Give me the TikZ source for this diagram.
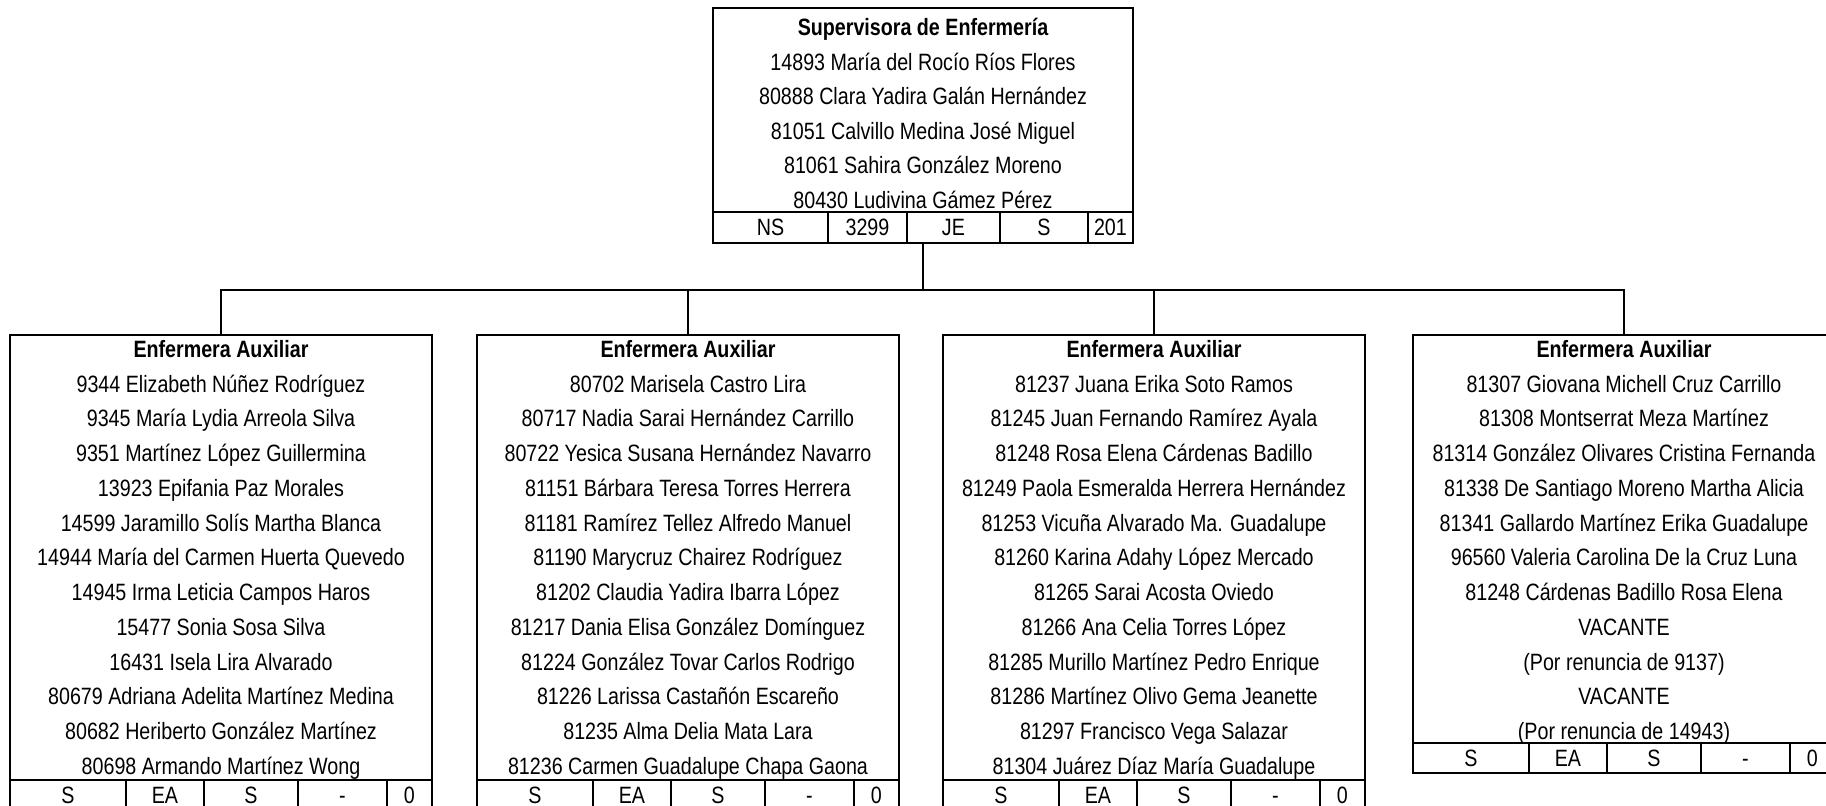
\documentclass[tikz,border=0pt]{standalone}
\usepackage{fontspec}
\setmainfont{Liberation Sans}
\usetikzlibrary{positioning}
\newcommand\alto[1]{\scalebox{1}[1.2]{#1}}

\begin{document}
\begin{tikzpicture}[x=0.02cm, y=-0.02cm,
    caja/.style={draw, line width=1.5pt, inner sep=0pt, outer sep=0pt, anchor=north west, minimum width=8.44cm},
    celda/.style={draw, line width=1.1pt, inner sep=0pt, outer sep=0pt, minimum height=0.6cm, text height=9.6pt, text depth=0pt, font=\fontsize{11.2}{13.4}\selectfont},
    linea/.style={inner sep=0pt, text height=9.6pt, text depth=0pt, font=\fontsize{11.2}{13.4}\selectfont},
    titulo/.style={linea, font=\fontsize{11.2}{13.4}\selectfont\bfseries},
    conector/.style={line width=1.3pt}]
  \clip (0,0) rectangle (1826,805);

  % supervisora
  \node[caja, minimum width=8.4cm, minimum height=4.7cm] (sup) at (713,8) {};
  \node[titulo] (sup-t) at (923,27) {\alto{Supervisora de Enfermería}};
  \foreach \t [count=\i] in {{14893 María del Rocío Ríos Flores},{80888 Clara Yadira Galán Hernández},
      {81051 Calvillo Medina José Miguel},{81061 Sahira González Moreno},{80430 Ludivina Gámez Pérez}}
    \node[linea] (sup-l\i) at (923,{27+34.6*\i}) {\alto{\t}};
  \node[celda, minimum height=0.62cm, minimum width=2.3cm, anchor=south west] (sup-1) at (sup.south west) {\alto{NS}};
  \node[celda, minimum height=0.62cm, minimum width=1.58cm, right=0pt of sup-1] (sup-2) {\alto{3299}};
  \node[celda, minimum height=0.62cm, minimum width=1.86cm, right=0pt of sup-2] (sup-3) {\alto{JE}};
  \node[celda, minimum height=0.62cm, minimum width=1.76cm, right=0pt of sup-3] (sup-4) {\alto{S}};
  \node[celda, minimum height=0.62cm, minimum width=0.9cm, right=0pt of sup-4] (sup-5) {\alto{201}};

  % enfermeras auxiliares
  \node[caja, minimum height=9.5cm] (a1) at (10,335) {};
  \node[caja, minimum height=9.5cm] (a2) at (477,335) {};
  \node[caja, minimum height=9.5cm] (a3) at (943,335) {};
  \node[caja, minimum height=8.76cm] (a4) at (1413,335) {};
  \foreach \b/\x in {a1/221,a2/688,a3/1154,a4/1624} {
    \node[titulo] (\b-t) at (\x,349) {\alto{Enfermera Auxiliar}};
    \node[celda, minimum width=2.32cm, anchor=south west] (\b-1) at (\b.south west) {\alto{S}};
    \node[celda, minimum width=1.56cm, right=0pt of \b-1] (\b-2) {\alto{EA}};
    \node[celda, minimum width=1.88cm, right=0pt of \b-2] (\b-3) {\alto{S}};
    \node[celda, minimum width=1.78cm, right=0pt of \b-3] (\b-4) {\alto{-}};
    \node[celda, minimum width=0.9cm, right=0pt of \b-4] (\b-5) {\alto{0}};
  }
  \foreach \t [count=\i] in {{9344 Elizabeth Núñez Rodríguez},{9345 María Lydia Arreola Silva},
      {9351 Martínez López Guillermina},{13923 Epifania Paz Morales},{14599 Jaramillo Solís Martha Blanca},
      {14944 María del Carmen Huerta Quevedo},{14945 Irma Leticia Campos Haros},{15477 Sonia Sosa Silva},
      {16431 Isela Lira Alvarado},{80679 Adriana Adelita Martínez Medina},
      {80682 Heriberto González Martínez},{80698 Armando Martínez Wong}}
    \node[linea] (a1-l\i) at (221,{349+34.75*\i}) {\alto{\t}};
  \foreach \t [count=\i] in {{80702 Marisela Castro Lira},{80717 Nadia Sarai Hernández Carrillo},
      {80722 Yesica Susana Hernández Navarro},{81151 Bárbara Teresa Torres Herrera},
      {81181 Ramírez Tellez Alfredo Manuel},{81190 Marycruz Chairez Rodríguez},
      {81202 Claudia Yadira Ibarra López},{81217 Dania Elisa González Domínguez},
      {81224 González Tovar Carlos Rodrigo},{81226 Larissa Castañón Escareño},
      {81235 Alma Delia Mata Lara},{81236 Carmen Guadalupe Chapa Gaona}}
    \node[linea] (a2-l\i) at (688,{349+34.75*\i}) {\alto{\t}};
  \foreach \t [count=\i] in {{81237 Juana Erika Soto Ramos},{81245 Juan Fernando Ramírez Ayala},
      {81248 Rosa Elena Cárdenas Badillo},{81249 Paola Esmeralda Herrera Hernández},
      {81253 Vicuña Alvarado Ma. Guadalupe},{81260 Karina Adahy López Mercado},
      {81265 Sarai Acosta Oviedo},{81266 Ana Celia Torres López},
      {81285 Murillo Martínez Pedro Enrique},{81286 Martínez Olivo Gema Jeanette},
      {81297 Francisco Vega Salazar},{81304 Juárez Díaz María Guadalupe}}
    \node[linea] (a3-l\i) at (1154,{349+34.75*\i}) {\alto{\t}};
  \foreach \t [count=\i] in {{81307 Giovana Michell Cruz Carrillo},{81308 Montserrat Meza Martínez},
      {81314 González Olivares Cristina Fernanda},{81338 De Santiago Moreno Martha Alicia},
      {81341 Gallardo Martínez Erika Guadalupe},{96560 Valeria Carolina De la Cruz Luna},
      {81248 Cárdenas Badillo Rosa Elena},{VACANTE},{(Por renuncia de 9137)},{VACANTE},
      {(Por renuncia de 14943)}}
    \node[linea] (a4-l\i) at (1624,{349+34.75*\i}) {\alto{\t}};

  % conectores
  \draw[conector] (sup.south) -- ++(0,47) coordinate (bus);
  \foreach \b in {a1,a2,a3,a4}
    \draw[conector] (bus) -| (\b.north);
\end{tikzpicture}
\end{document}
